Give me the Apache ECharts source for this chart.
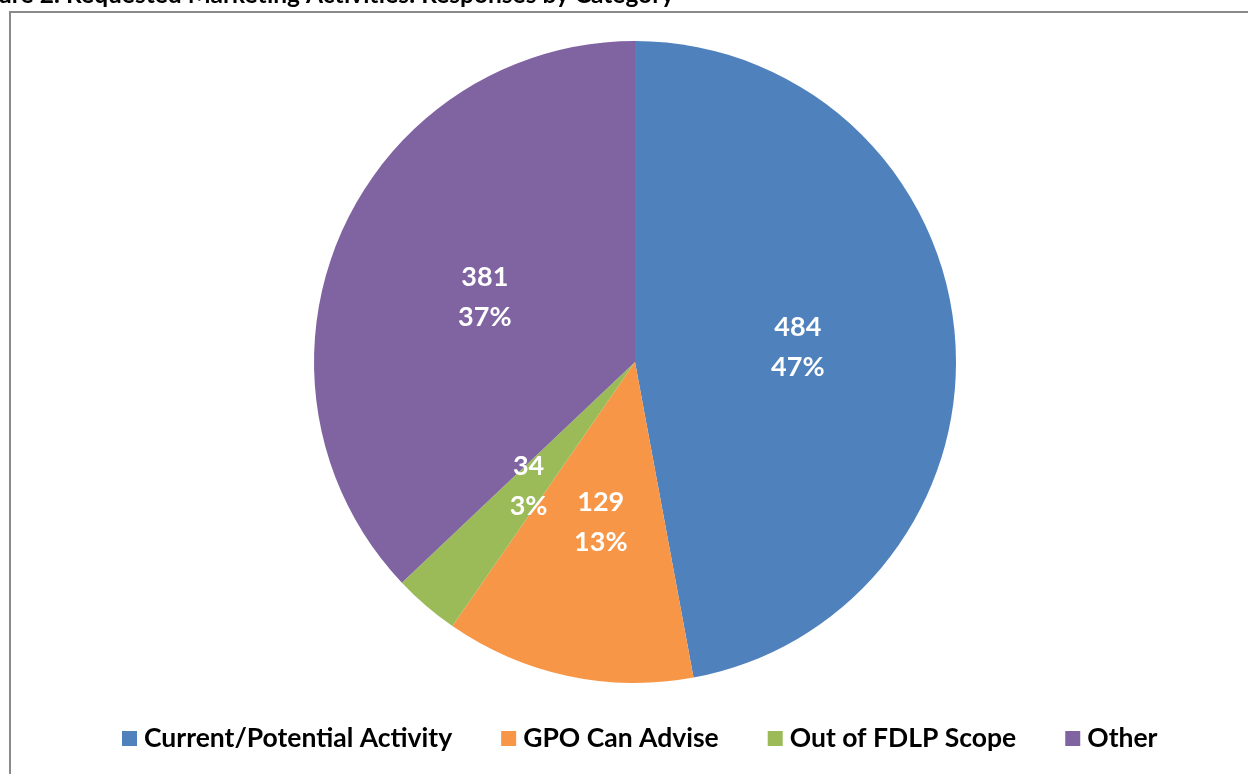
<!DOCTYPE html>
<html>
<head>
<meta charset="utf-8">
<script src="https://cdn.jsdelivr.net/npm/echarts@6/dist/echarts.min.js"></script>
<style>
  html, body { margin: 0; padding: 0; background: #ffffff; }
  #chart { width: 1248px; height: 774px; }
</style>
</head>
<body>
<div id="chart"></div>
<script>
// Requested marketing activities, grouped by response category
const categories = ['Current/Potential Activity', 'GPO Can Advise', 'Out of FDLP Scope', 'Other'];
const counts = [484, 129, 34, 381];
const colors = ['#4F81BD', '#F79646', '#9BBB59', '#8064A2'];
const titleText = 'Figure 2: Requested Marketing Activities: Responses by Category';

const FONT = 'Lato, "Open Sans", "DejaVu Sans", sans-serif';

const chart = echarts.init(document.getElementById('chart'), null, { renderer: 'canvas' });

chart.setOption({
  backgroundColor: '#ffffff',
  animation: false,
  color: colors,
  graphic: [
    {
      type: 'text',
      left: -35,
      top: -17,
      style: {
        text: titleText,
        fill: '#000000',
        font: 'bold 24.5px ' + FONT
      }
    },
    {
      type: 'rect',
      shape: { x: 10, y: 12, width: 1400, height: 900 },
      style: { fill: 'none', stroke: '#8a8a8a', lineWidth: 2 },
      z: -1
    }
  ],
  legend: {
    data: categories,
    left: 122,
    top: 725,
    padding: 0,
    icon: 'rect',
    itemWidth: 15,
    itemHeight: 15,
    itemGap: 49,
    textStyle: {
      color: '#000000',
      fontFamily: FONT,
      fontWeight: 'bold',
      fontSize: 26.5,
      padding: [0, 0, 0, 2]
    }
  },
  series: [
    {
      type: 'pie',
      center: [635, 362],
      radius: [0, 321],
      startAngle: 90,
      clockwise: true,
      percentPrecision: 0,
      silent: true,
      data: categories.map((name, i) => ({ name, value: counts[i] })),
      itemStyle: { borderWidth: 0 },
      label: {
        show: true,
        position: 'inside',
        formatter: '{c}\n{d}%',
        color: '#ffffff',
        fontFamily: FONT,
        fontWeight: 'bold',
        fontSize: 27,
        lineHeight: 40,
        textBorderWidth: 0
      },
      labelLine: { show: false }
    }
  ]
});
</script>
</body>
</html>
